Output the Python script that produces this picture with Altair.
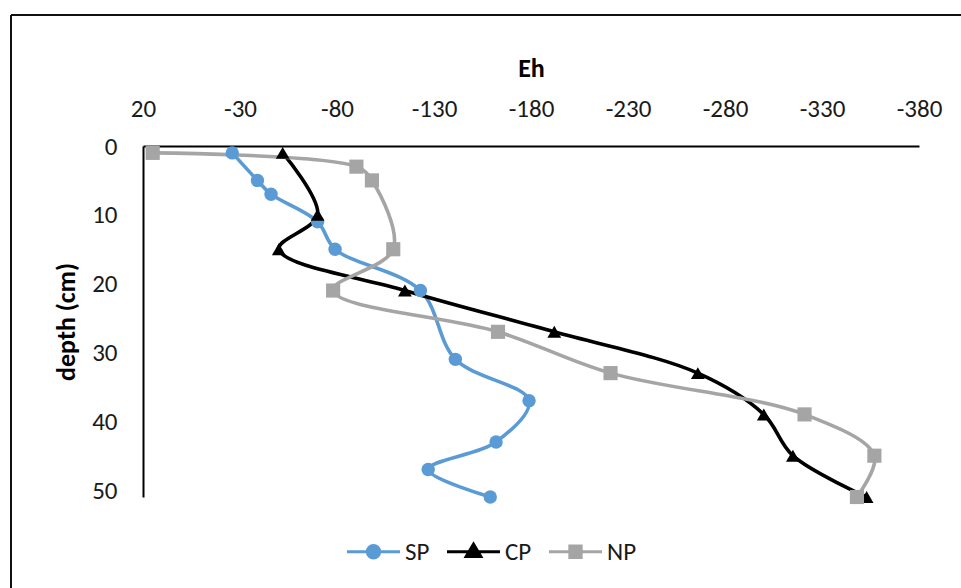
import altair as alt
import pandas as pd

# Data
series_names = ["SP", "CP", "NP"]
sp_depth = [1, 5, 7, 11, 15, 21, 31, 37, 43, 47, 51]
sp_eh = [-26, -39, -46, -70, -79, -123, -141, -179, -162, -127, -159]
cp_depth = [1, 10, 15, 21, 27, 33, 39, 45, 51]
cp_eh = [-52, -70, -50, -115, -192, -266, -300, -315, -353]
np_depth = [1, 3, 5, 15, 21, 27, 33, 39, 45, 51]
np_eh = [15, -90, -98, -109, -78, -163, -221, -321, -357, -348]
x_ticks = [20, -30, -80, -130, -180, -230, -280, -330, -380]
y_ticks = [0, 10, 20, 30, 40, 50]

colors = ["#5B9BD5", "#000000", "#A5A5A5"]
FONT = "Calibri, Carlito, Lato, sans-serif"

rows = []
for name, ds, es in [("SP", sp_depth, sp_eh), ("CP", cp_depth, cp_eh), ("NP", np_depth, np_eh)]:
    for d, e in zip(ds, es):
        rows.append({"series": name, "depth": d, "Eh": e})
df = pd.DataFrame(rows)

x_enc = alt.X("Eh:Q", title="Eh",
              scale=alt.Scale(domain=[-380, 20], reverse=True, nice=False, zero=False),
              axis=alt.Axis(orient="top", values=x_ticks, ticks=False, grid=False,
                            domainColor="#000000", domainWidth=2,
                            labelExpr="'' + datum.value",
                            labelFont=FONT, labelFontSize=25, labelColor="#1a1a1a",
                            labelPadding=25, labelFlush=False,
                            titleFont=FONT, titleFontSize=26, titleFontWeight="bold",
                            titleColor="#000000", titlePadding=15))
y_enc = alt.Y("depth:Q", title="depth (cm)",
              scale=alt.Scale(domain=[0, 51], reverse=True, nice=False, zero=False),
              axis=alt.Axis(values=y_ticks, ticks=False, grid=False,
                            domainColor="#000000", domainWidth=2,
                            labelFont=FONT, labelFontSize=25, labelColor="#1a1a1a",
                            labelPadding=26, labelFlush=False,
                            titleFont=FONT, titleFontSize=26, titleFontWeight="bold",
                            titleColor="#000000", titlePadding=12))

color_scale = alt.Scale(domain=series_names, range=colors)

lines = alt.Chart(df).mark_line(interpolate="catmull-rom", strokeWidth=3.6).encode(
    x=x_enc, y=y_enc,
    color=alt.Color("series:N", scale=color_scale, legend=None),
    order=alt.Order("depth:Q"),
)

points = alt.Chart(df).mark_point(filled=True, opacity=1).encode(
    x="Eh:Q", y="depth:Q",
    color=alt.Color("series:N", scale=color_scale, legend=None),
    shape=alt.Shape("series:N", scale=alt.Scale(domain=series_names,
                                                range=["circle", "triangle-up", "square"]),
                    legend=None),
    size=alt.Size("series:N", scale=alt.Scale(domain=series_names, range=[180, 200, 150]),
                  legend=None),
)

# legend-only layer (no rows reach the marks)
leg_paths = [
    "M-1,0L1,0M-0.23,0A0.23,0.23,0,1,1,0.23,0A0.23,0.23,0,1,1,-0.23,0Z",
    "M-1,0L1,0M0,-0.28L0.27,0.18L-0.27,0.18Z",
    "M-1,0L1,0M-0.21,-0.21L0.21,-0.21L0.21,0.21L-0.21,0.21Z",
]
legend_layer = alt.Chart(df).mark_point(filled=True).encode(
    x="Eh:Q", y="depth:Q",
    fill=alt.Fill("series:N", scale=alt.Scale(domain=series_names, range=colors),
                  legend=alt.Legend(title=None)),
    stroke=alt.Stroke("series:N", scale=alt.Scale(domain=series_names, range=colors),
                      legend=alt.Legend(title=None)),
    shape=alt.Shape("series:N", scale=alt.Scale(domain=series_names, range=leg_paths),
                    legend=alt.Legend(title=None)),
).transform_filter("false")

frame_left = alt.Chart(alt.Data(values=[{}])).mark_rule(color="#111111", strokeWidth=2).encode(
    x=alt.value(-132), y=alt.value(-131), y2=alt.value(460))
frame_top = alt.Chart(alt.Data(values=[{}])).mark_rule(color="#111111", strokeWidth=2).encode(
    x=alt.value(-132), x2=alt.value(830), y=alt.value(-131))

chart = alt.layer(frame_left, frame_top, lines, points, legend_layer).resolve_scale(
    color="independent", shape="independent", fill="independent", stroke="independent",
    size="independent"
).properties(
    width=776, height=351,
    autosize=alt.AutoSizeParams(type="none"),
    padding={"left": 143, "top": 146, "right": 42, "bottom": 91},
    background="white",
).configure_view(stroke=None).configure_legend(
    orient="none", legendX=202, legendY=377, direction="horizontal", padding=0,
    labelFont=FONT, labelFontSize=25, labelColor="#1a1a1a",
    symbolSize=2809, symbolStrokeWidth=3.2, labelOffset=3, columnPadding=10,
    symbolOpacity=1,
)

chart.save("out.html", embed_options={"renderer": "svg", "actions": False})
